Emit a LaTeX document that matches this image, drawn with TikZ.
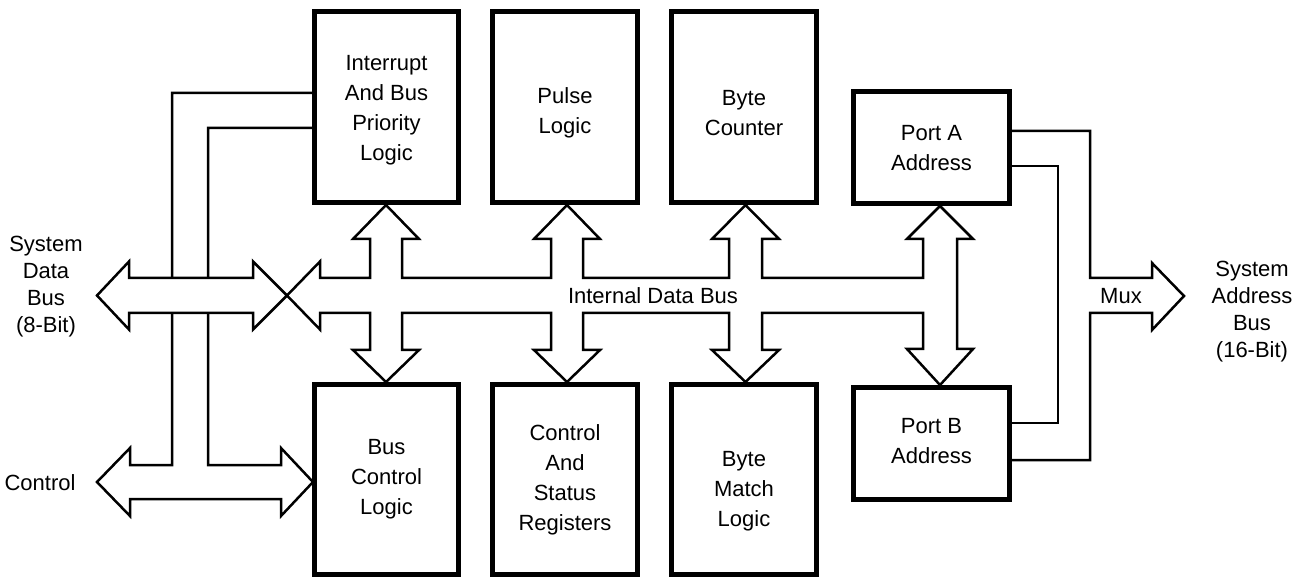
\documentclass[tikz,border=0pt]{standalone}
\usepackage{fontspec}
\setmainfont{Liberation Sans}
\begin{document}
\begin{tikzpicture}[x=1pt,y=-1pt,
  box/.style={draw,line width=5pt,fill=white,inner sep=0pt,align=center,
    font=\fontsize{22}{30}\selectfont},
  lbl/.style={inner sep=0pt,align=center,font=\fontsize{22}{30}\selectfont},
  sidelbl/.style={inner sep=0pt,align=center,font=\fontsize{22}{27}\selectfont},
  busline/.style={line width=2.5pt,line join=miter},
  busfill/.style={line width=2.5pt,line join=miter,fill=white}]
\useasboundingbox (0,0) rectangle (1310,577);

% control lines (Control bus to Interrupt logic)
\coordinate (ctlA) at (312,93);
\coordinate (ctlB) at (312,128);
\draw[busfill] (ctlA) -- (172,93) -- (172,465) -- (130,465) -- (130,448) -- (97,482)
  -- (130,516) -- (130,499) -- (281,499) -- (281,516) -- (313,482) -- (281,448)
  -- (281,465) -- (208,465) -- (208,128) -- (ctlB);

% system data bus
\draw[busfill] (97,295.5) -- (129,261.5) -- (129,278) -- (253,278) -- (253,261.5)
  -- (287,295.5) -- (253,329.5) -- (253,313) -- (129,313) -- (129,329.5) -- cycle;

% internal data bus
\draw[busfill] (287,295.5) -- (320,261.5) -- (320,278)
  -- (370,278) -- (370,239) -- (353,239) -- (386,205) -- (419,239) -- (402,239) -- (402,278)
  -- (551,278) -- (551,239) -- (534,239) -- (567,205) -- (600,239) -- (583,239) -- (583,278)
  -- (729,278) -- (729,239) -- (712,239) -- (745.5,205) -- (779,239) -- (762,239) -- (762,278)
  -- (923,278) -- (923,239) -- (907,239) -- (940,206) -- (973,239) -- (957,239)
  -- (957,349) -- (973,349) -- (940,385) -- (907,349) -- (923,349) -- (923,313)
  -- (762,313) -- (762,350) -- (779,350) -- (745.5,382) -- (712,350) -- (729,350) -- (729,313)
  -- (583,313) -- (583,350) -- (600,350) -- (567,382) -- (534,350) -- (551,350) -- (551,313)
  -- (402,313) -- (402,350) -- (419,350) -- (386,382) -- (353,350) -- (370,350) -- (370,313)
  -- (320,313) -- (320,329.5) -- cycle;

% mux lines
\draw[busfill] (1012,131) -- (1090,131) -- (1090,278) -- (1152,278) -- (1152,263)
  -- (1184,296) -- (1152,330) -- (1152,313) -- (1090,313) -- (1090,460) -- (1012,460);
\draw[busline] (1012,166) -- (1058,166) -- (1058,423) -- (1012,423);

% boxes
\node[box,minimum width=144pt,minimum height=191pt] (irq) at (386.5,107) {};
\node[lbl] (irqtext) at (386.5,110) {Interrupt\\And Bus\\Priority\\Logic};
\node[box,minimum width=145pt,minimum height=191pt] (pulse) at (565,107) {};
\node[lbl] (pulsetext) at (565,113) {Pulse\\Logic};
\node[box,minimum width=145pt,minimum height=191pt] (bcnt) at (744,107) {};
\node[lbl] (bcnttext) at (744,113) {Byte\\Counter};
\node[box,minimum width=144pt,minimum height=190pt] (bcl) at (386.5,479.5) {Bus\\Control\\Logic};
\node[box,minimum width=145pt,minimum height=190pt] (csr) at (565,479.5) {Control\\And\\Status\\Registers};
\node[box,minimum width=145pt,minimum height=190pt] (bml) at (744,479.5) {};
\node[lbl] (bmltext) at (744,491) {Byte\\Match\\Logic};
\node[box,minimum width=156pt,minimum height=112pt] (pa) at (931.5,147.5) {};
\node[lbl] (patext) at (931.5,148.5) {Port A\\Address};
\node[box,minimum width=156pt,minimum height=112pt] (pb) at (931.5,443.5) {};
\node[lbl] (pbtext) at (931.5,441) {Port B\\Address};

% labels
\node[lbl] (idb) at (653,295.5) {Internal Data Bus};
\node[lbl] (mux) at (1121,296) {Mux};
\node[sidelbl] (sdb) at (46,287) {System\\Data\\Bus\\(8-Bit)};
\node[sidelbl] (sab) at (1252,312) {System\\Address\\Bus\\(16-Bit)};
\node[lbl] (ctl) at (40,483) {Control};
\end{tikzpicture}
\end{document}
